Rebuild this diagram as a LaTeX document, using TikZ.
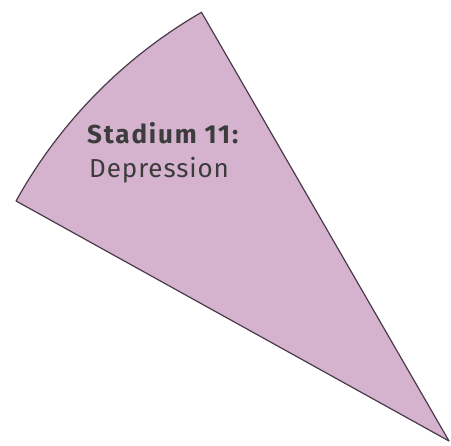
\documentclass[tikz,border=0pt]{standalone}
\usepackage{fontspec}
\setmainfont{Fira Sans}
\definecolor{sectorfill}{HTML}{D5B3CF}
\definecolor{sectoredge}{HTML}{4A3A4A}
\definecolor{txt}{HTML}{3C3C3C}
\tikzset{
  sector/.style={fill=sectorfill, draw=sectoredge, line width=1.2pt, line join=round},
  lbl/.style={anchor=base west, inner sep=0pt, text=txt}
}
\begin{document}
\begin{tikzpicture}[x=1pt,y=1pt]
\useasboundingbox (0,0) rectangle (451,446);
\coordinate (apex) at (449,5);
\draw[sector] (apex) -- ++(120:495) arc (120:151:495) -- cycle;
\node[lbl, font=\fontsize{26}{30}\selectfont\addfontfeatures{LetterSpace=7}\bfseries] (t1) at (87,302) {Stadium 11:};
\node[lbl, font=\fontsize{26}{30}\selectfont\addfontfeatures{LetterSpace=3.5}] (t2) at (89,268) {Depression};
\end{tikzpicture}
\end{document}
